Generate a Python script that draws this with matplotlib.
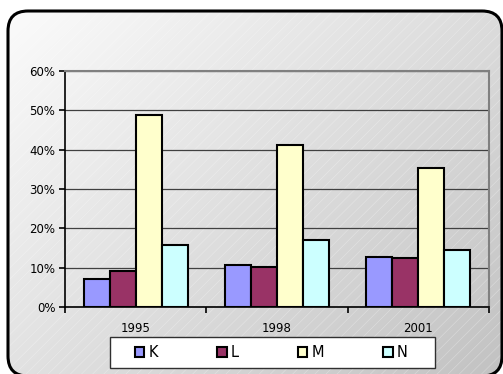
import numpy as np
import matplotlib
matplotlib.use("Agg")
import matplotlib.pyplot as plt
from matplotlib.patches import FancyBboxPatch, Patch, Rectangle
from matplotlib.ticker import PercentFormatter

years = ["1995", "1998", "2001"]
series = ["K", "L", "M", "N"]
k_vals = [7.0, 10.7, 12.7]
l_vals = [9.2, 10.1, 12.4]
m_vals = [48.8, 41.1, 35.3]
n_vals = [15.7, 17.0, 14.6]
colors = ["#9999FF", "#993366", "#FFFFCC", "#CCFFFF"]

W, H = 503, 374
plt.rcParams["hatch.linewidth"] = 0.5
fig = plt.figure(figsize=(W / 100, H / 100), dpi=100)
fig.patch.set_facecolor("white")

# background: rounded box with a diagonal grey gradient + faint hatching
# (pixel coords, y measured upward from the bottom)
bg = fig.add_axes([0, 0, 1, 1])
bg.axis("off")
yy, xx = np.mgrid[0:H, 0:W]   # row 0 = top of the image
grad = xx / W * 0.55 + yy / H * 0.45
level = 0.99 - 0.23 * grad
rgb = np.dstack([level, level, level])
img = bg.imshow(rgb, extent=(0, W, 0, H), origin="upper", aspect="auto",
                interpolation="bilinear")
bg.set_xlim(0, W)
bg.set_ylim(0, H)
box_xy, box_w, box_h = (8, -2), 494, 365
box = FancyBboxPatch(box_xy, box_w, box_h, boxstyle="round,pad=0,rounding_size=20",
                     facecolor="none", edgecolor="black", linewidth=2.2, zorder=3)
bg.add_patch(box)
img.set_clip_path(box)
hatch = FancyBboxPatch(box_xy, box_w, box_h, boxstyle="round,pad=0,rounding_size=20",
                       facecolor="none", edgecolor=(1, 1, 1, 0.3), hatch="///",
                       linewidth=0, zorder=2)
bg.add_patch(hatch)
# legend frame
bg.add_patch(Rectangle((110, H - 368), 325, 31, facecolor="white", edgecolor="#303030",
                       linewidth=1.0, zorder=4))

ax = fig.add_axes([65 / W, (H - 307) / H, 424 / W, 236 / H])
ax.set_facecolor("none")

x = np.arange(len(years))
w = 0.184
vals = [k_vals, l_vals, m_vals, n_vals]
for i, (name, v, c) in enumerate(zip(series, vals, colors)):
    ax.bar(x + (i - 1.5) * w, v, w, color=c, edgecolor="black", linewidth=1.5,
           label=name, zorder=3)

ax.set_xlim(-0.5, 2.5)
ax.set_ylim(0, 60)
ax.set_yticks(range(0, 61, 10))
ax.yaxis.set_major_formatter(PercentFormatter(decimals=0))
ax.yaxis.grid(True, color="#404040", linewidth=0.9, zorder=1)
ax.set_axisbelow(True)

ax.set_xticks([-0.5, 0.5, 1.5, 2.5])
ax.set_xticklabels([])
ax.set_xticks(x, minor=True)
ax.set_xticklabels(years, minor=True)
ax.tick_params(axis="x", which="minor", length=0, pad=11, labelsize=8.5)
ax.tick_params(axis="x", which="major", length=4, width=1.2, direction="out")
ax.tick_params(axis="y", length=4, width=1.2, direction="out", labelsize=8.5, pad=3)

for s in ["top", "right"]:
    ax.spines[s].set_color("#808080")
    ax.spines[s].set_linewidth(1.5)
for s in ["left", "bottom"]:
    ax.spines[s].set_color("black")
    ax.spines[s].set_linewidth(1.2)

handles = [Patch(facecolor=c, edgecolor="black", linewidth=1.5) for c in colors]
leg = fig.legend(handles, series, loc="center", ncol=4, mode="expand",
                 bbox_to_anchor=(135 / W, (H - 368) / H, 273 / W, 31 / H),
                 fontsize=10.5, frameon=False,
                 handlelength=0.65, handleheight=0.65, handletextpad=0.3,
                 borderpad=0, borderaxespad=0)

fig.savefig("out.png", dpi=100)
